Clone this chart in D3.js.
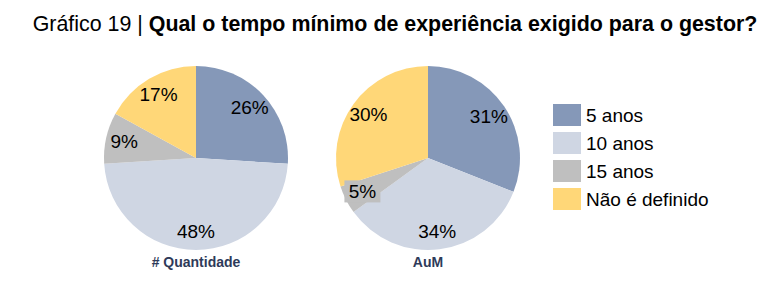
<!DOCTYPE html>
<html>
<head>
<meta charset="utf-8">
<script src="https://cdn.jsdelivr.net/npm/d3@7"></script>
<style>
  html, body { margin: 0; padding: 0; background: #fff; }
  svg { display: block; font-family: "Liberation Sans", Arial, sans-serif; }
</style>
</head>
<body>
<svg id="chart" width="773" height="286"></svg>
<script>
const categories = ['5 anos', '10 anos', '15 anos', 'Não é definido'];
const colors = ['#8598b8', '#cfd6e3', '#bfbfbf', '#ffd778'];
const quantidadeValues = [26, 48, 9, 17];
const aumValues = [31, 34, 5, 30];
const pieTitles = ['# Quantidade', 'AuM'];

const svg = d3.select('#chart');

// title: regular prefix + bold question
const title = svg.append('text')
  .attr('x', 395)
  .attr('y', 31)
  .attr('text-anchor', 'middle')
  .attr('font-size', 21.4)
  .attr('fill', '#000');
title.append('tspan').text('Gráfico 19 | ');
title.append('tspan').attr('font-weight', 'bold').text('Qual o tempo mínimo de experiência exigido para o gestor?');

const radius = 92;
const pie = d3.pie().sort(null).value((d) => d);
const arc = d3.arc().innerRadius(0).outerRadius(radius);
const labelArc = d3.arc().innerRadius(radius * 0.8).outerRadius(radius * 0.8);

const centers = d3.scalePoint().domain(pieTitles).range([196, 428]);

function drawPie(values, name) {
  const g = svg.append('g')
    .attr('transform', `translate(${centers(name)},158)`);

  const slices = pie(values);

  g.selectAll('path')
    .data(slices)
    .enter()
    .append('path')
    .attr('d', arc)
    .attr('fill', (d, i) => colors[i]);

  const labels = g.selectAll('g.label')
    .data(slices)
    .enter()
    .append('g')
    .attr('class', 'label')
    .attr('transform', (d) => `translate(${labelArc.centroid(d)})`);

  // small slices get a filled label box, like the original
  labels.filter((d) => d.value < 6)
    .append('rect')
    .attr('x', -18)
    .attr('y', -11)
    .attr('width', 36)
    .attr('height', 22)
    .attr('fill', (d) => colors[d.index]);

  labels.append('text')
    .attr('text-anchor', 'middle')
    .attr('dominant-baseline', 'central')
    .attr('font-size', 19)
    .attr('fill', '#000')
    .text((d) => `${d.value}%`);

  svg.append('text')
    .attr('x', centers(name))
    .attr('y', 267)
    .attr('text-anchor', 'middle')
    .attr('font-size', 14)
    .attr('font-weight', 'bold')
    .attr('fill', '#2e3a59')
    .text(name);
}

drawPie(quantidadeValues, pieTitles[0]);
drawPie(aumValues, pieTitles[1]);

const legendY = d3.scaleBand().domain(categories).range([104, 216]);

const legend = svg.append('g').selectAll('g')
  .data(categories)
  .enter()
  .append('g')
  .attr('transform', (d) => `translate(553,${legendY(d)})`);

legend.append('rect')
  .attr('width', 28)
  .attr('height', 22)
  .attr('fill', (d, i) => colors[i]);

legend.append('text')
  .attr('x', 33)
  .attr('y', 18)
  .attr('font-size', 19)
  .attr('fill', '#000')
  .text((d) => d);
</script>
</body>
</html>
